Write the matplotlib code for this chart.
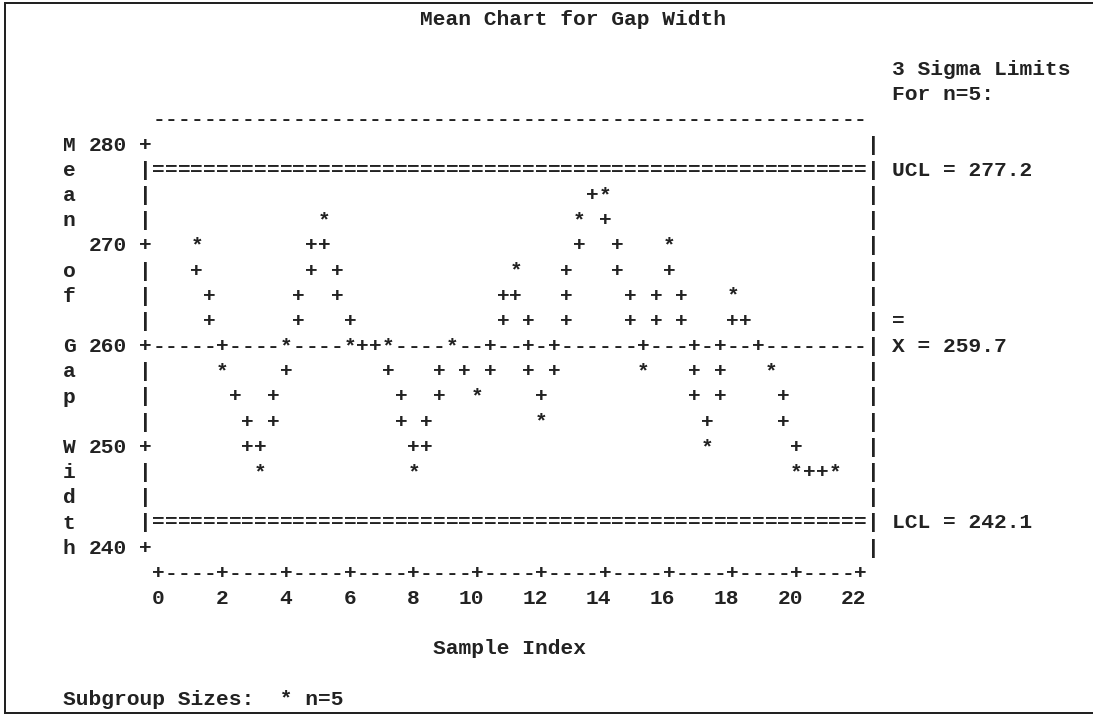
import math
from fractions import Fraction

import matplotlib
matplotlib.use("Agg")
import matplotlib.pyplot as plt
from matplotlib.font_manager import FontProperties
from matplotlib.lines import Line2D

# subgroup means of gap width (n=5 per subgroup)
sample_index = list(range(1, 22))
gap_means = [270.2, 257.6, 247.3, 259.9, 272.8, 260.4, 259.6, 247.8, 260.1, 255.3,
             267.2, 252.6, 272.4, 275.3, 257.4, 270.3, 249.8, 265.2, 257.9, 247.5, 246.9]
ucl = 277.2
center = 259.7
lcl = 242.1
x_ticks = list(range(0, 23, 2))
y_ticks = [280, 270, 260, 250, 240]

title = "Mean Chart for Gap Width"
x_label = "Sample Index"
y_label = "Mean of Gap Width"
limits_note = ["3 Sigma Limits", "For n=5:"]
footnote = "Subgroup Sizes:  * n=5"

# line printer layout: 5 columns per 2 samples, 4 rows per 10 units
COLS_PER_X = 2.5
Y_PER_ROW = 2.5
CW, RH = 12.76, 25.2          # pixel size of one character cell
X0_PX, Y0_PX = 158.5, 145.0   # pixel centre of x=0 and of y=280
W, H = 1093, 715
INK = "#222222"

fig = plt.figure(figsize=(W / 100, H / 100), dpi=100)
ax = fig.add_axes([0, 0, 1, 1])
ax.axis("off")
y_top = max(y_ticks)
sx = CW * COLS_PER_X
sy = RH / Y_PER_ROW
ax.set_xlim(-X0_PX / sx, (W - X0_PX) / sx)
ax.set_ylim(y_top - (H - Y0_PX) / sy, y_top + Y0_PX / sy)

fp = FontProperties(family="Liberation Mono", weight="bold", size=CW / 0.6 * 72 / 100)
_, lp_h, lp_d = fig.canvas.get_renderer().get_text_width_height_descent("lp", fp, ismath=False)
base_off = (lp_h / 2 - lp_d) / sy   # row centre -> baseline, in y units


def to_col(x):
    return math.floor(x * COLS_PER_X + 0.5)


def to_row(y):
    return math.floor((y_top - y) / Y_PER_ROW + 0.5)


def cx(c):
    return c / COLS_PER_X


def cy(r):
    return y_top - r * Y_PER_ROW - base_off


def put(c, r, s):
    ax.text(cx(c) - 0.5 / COLS_PER_X, cy(r), s, fontproperties=fp, color=INK,
            ha="left", va="baseline")


# character grid of the plot area
c_left = to_col(0) - 1
c_right = to_col(max(x_ticks)) + 1
r_top, r_bot = to_row(max(y_ticks)), to_row(min(y_ticks))
grid = {}
for c in range(c_left + 1, c_right):
    grid[(c, r_top - 1)] = "-"
for r in range(r_top, r_bot + 1):
    grid[(c_left, r)] = "|"
    grid[(c_right, r)] = "|"
for v in y_ticks:
    grid[(c_left, to_row(v))] = "+"
for c in range(c_left + 1, c_right):
    grid[(c, to_row(ucl))] = "="
    grid[(c, to_row(lcl))] = "="
    grid[(c, to_row(center))] = "-"
    grid[(c, r_bot + 1)] = "-"
for t in x_ticks:
    grid[(to_col(t), r_bot + 1)] = "+"

# connect the means the way a line printer does
pts = [(to_col(x), to_row(y)) for x, y in zip(sample_index, gap_means)]
for (c0, r0), (c1, r1) in zip(pts[:-1], pts[1:]):
    dc, dr = c1 - c0, r1 - r0
    if abs(dr) >= abs(dc):
        step = 1 if dr > 0 else -1
        for r in range(r0 + step, r1, step):
            c = math.floor(c0 + Fraction((r - r0) * dc, dr) + Fraction(1, 2))
            grid[(c, r)] = "+"
    else:
        step = 1 if dc > 0 else -1
        for c in range(c0 + step, c1, step):
            r = math.ceil(r0 + Fraction((c - c0) * dr, dc) - Fraction(1, 2))
            grid[(c, r)] = "+"
for c, r in pts:
    grid[(c, r)] = "*"

for (c, r), ch in grid.items():
    ax.text(cx(c), cy(r), ch, fontproperties=fp, color=INK, ha="center", va="baseline")

# labels
put(21, r_top - 5, title)
put(c_right + 2, r_top - 3, limits_note[0])
put(c_right + 2, r_top - 2, limits_note[1])
put(c_right + 2, to_row(ucl), f"UCL = {ucl:.1f}")
put(c_right + 2, to_row(center) - 1, "=")
put(c_right + 2, to_row(center), f"X = {center:.1f}")
put(c_right + 2, to_row(lcl), f"LCL = {lcl:.1f}")
for v in y_ticks:
    s = str(v)
    put(c_left - 2 - len(s) + 1, to_row(v), s)
for t in x_ticks:
    s = str(t)
    put(to_col(t) - len(s) + 1, r_bot + 2, s)
put(22, r_bot + 4, x_label)
put(c_left - 6, r_bot + 6, footnote)

# vertical label, one letter per row
ls = (RH - lp_d) / (lp_h - lp_d)
ax.text(cx(c_left - 6), cy(r_top) + (lp_h - lp_d) / sy, "\n".join(y_label),
        fontproperties=fp, color=INK, ha="center", va="top",
        multialignment="center", linespacing=ls)

# page frame
lw = 2 * 72 / 100
fig.add_artist(Line2D([5 / W, 5 / W], [1 - 3 / H, 2 / H], color=INK, lw=lw))
fig.add_artist(Line2D([5 / W, 1], [1 - 3 / H, 1 - 3 / H], color=INK, lw=lw))
fig.add_artist(Line2D([5 / W, 1], [2 / H, 2 / H], color=INK, lw=lw))

fig.savefig("out.png", dpi=100)
